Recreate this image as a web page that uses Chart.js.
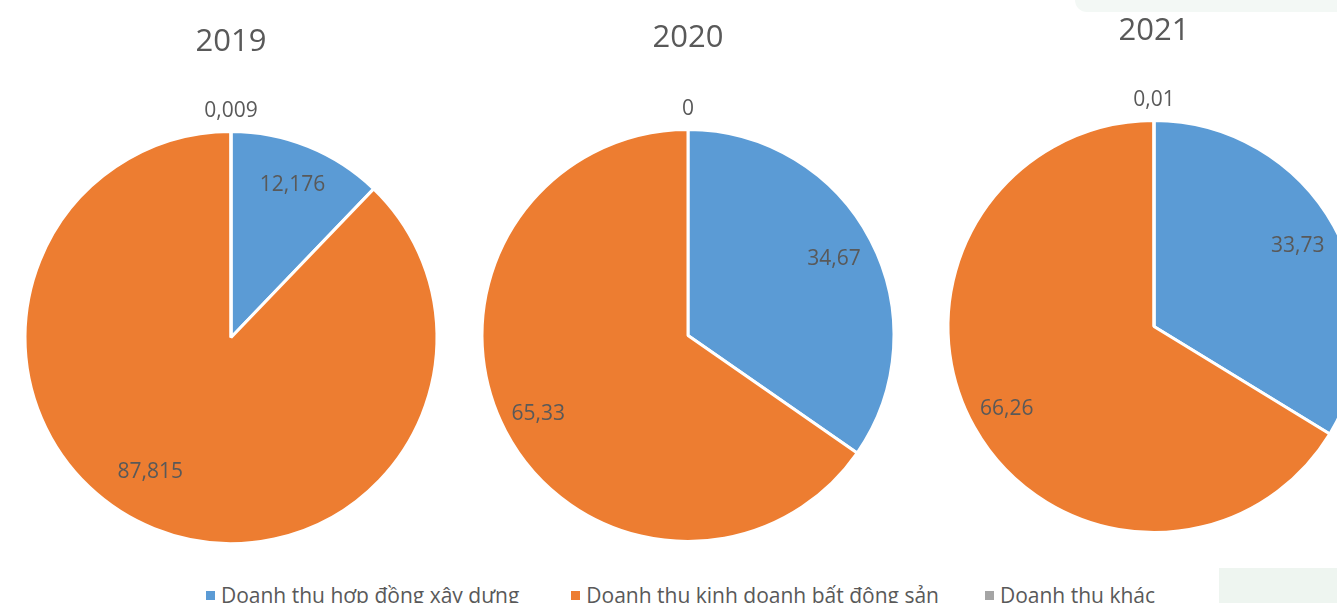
<!DOCTYPE html>
<html>
<head>
<meta charset="utf-8">
<script src="https://cdn.jsdelivr.net/npm/chart.js@4"></script>
<style>
  body { margin: 0; width: 1337px; height: 603px; overflow: hidden; background: #fff; position: relative; font-family: "Open Sans", sans-serif; }
  .pie { position: absolute; width: 462px; height: 560px; }
  #legend { position: absolute; left: 12px; top: 579px; width: 1337px; height: 32px; display: flex; justify-content: center; font-size: 21px; color: #595959; white-space: nowrap; }
  #legend span { display: inline-flex; align-items: center; }
  #legend i { display: inline-block; width: 9px; height: 9px; margin-right: 6px; }
  .tint1 { position: absolute; left: 1075px; top: -14px; width: 290px; height: 26px; border-radius: 12px; background: #f3f8f5; }
  .tint2 { position: absolute; left: 1219px; top: 568px; width: 120px; height: 40px; background: #eef5f0; }
</style>
</head>
<body>
<div class="tint1"></div>
<div class="tint2"></div>
<div class="pie" id="w2019"><canvas id="c2019"></canvas></div>
<div class="pie" id="w2020"><canvas id="c2020"></canvas></div>
<div class="pie" id="w2021"><canvas id="c2021"></canvas></div>
<div id="legend"></div>
<script>
const categories = ["Doanh thu hợp đồng xây dựng", "Doanh thu kinh doanh bất động sản", "Doanh thu khác"];
const years = ["2019", "2020", "2021"];
const values2019 = [12.176, 87.815, 0.009];
const values2020 = [34.67, 65.33, 0];
const values2021 = [33.73, 66.26, 0.01];
const labels2019 = ["12,176", "87,815", "0,009"];
const labels2020 = ["34,67", "65,33", "0"];
const labels2021 = ["33,73", "66,26", "0,01"];
const colors = ["#5b9bd5", "#ed7d31", "#a5a5a5"];

// where each pie sits on the page: center x, center y, radius, title center y
const spots = [
  { cx: 231, cy: 337, r: 206, ty: 42 },
  { cx: 688, cy: 335, r: 206, ty: 38 },
  { cx: 1154, cy: 326, r: 206, ty: 31 },
];

const W = 462, H = 560, BW = 3;
const FONT = "'Open Sans', sans-serif";

// draws the value labels like excel: big slices inside, the tiny one above the top
const valueLabels = {
  id: "valueLabels",
  afterDatasetsDraw(chart, args, opts) {
    const ctx = chart.ctx;
    const meta = chart.getDatasetMeta(0);
    ctx.save();
    ctx.font = "21px " + FONT;
    ctx.fillStyle = "#595959";
    ctx.textAlign = "center";
    ctx.textBaseline = "middle";
    meta.data.forEach((arc, i) => {
      const p = arc.getProps(["x", "y", "startAngle", "endAngle", "outerRadius"], true);
      const txt = opts.texts[i];
      if (i == 2) {
        ctx.fillText(txt, p.x, p.y - p.outerRadius - 20);
        return;
      }
      let mid = (p.startAngle + p.endAngle) / 2;
      const f = opts.factors ? opts.factors[i] : 0.8;
      if (opts.shift && opts.shift[i]) mid += opts.shift[i];
      ctx.fillText(txt, p.x + Math.cos(mid) * p.outerRadius * f, p.y + Math.sin(mid) * p.outerRadius * f);
    });
    ctx.restore();
  }
};

function makePie(id, year, values, texts, spot, extra) {
  const wrap = document.getElementById("w" + year);
  wrap.style.left = (spot.cx - W / 2) + "px";
  const areaSide = spot.r * 2 + BW;
  const areaTop = H - 16 - areaSide;
  wrap.style.top = (spot.cy - (areaTop + areaSide / 2)) + "px";
  const titleTop = spot.ty - (spot.cy - (areaTop + areaSide / 2)) - 19;
  new Chart(document.getElementById(id), {
    type: "pie",
    data: {
      labels: categories,
      datasets: [{
        data: values,
        backgroundColor: colors,
        borderColor: "#ffffff",
        borderWidth: BW,
      }],
    },
    options: {
      responsive: true,
      maintainAspectRatio: false,
      animation: false,
      layout: { padding: { left: (W - areaSide) / 2, right: (W - areaSide) / 2, bottom: 16, top: 0 } },
      plugins: {
        legend: { display: false },
        tooltip: { enabled: false },
        title: {
          display: true,
          text: year,
          color: "#595959",
          font: { family: FONT, size: 31, weight: "normal", lineHeight: 1.2 },
          padding: { top: titleTop, bottom: areaTop - titleTop - 31 * 1.2 },
        },
        valueLabels: Object.assign({ texts: texts }, extra),
      },
    },
    plugins: [valueLabels],
  });
}

makePie("c2019", years[0], values2019, labels2019, spots[0], { factors: [0.8, 0.76], shift: [0, 0.16] });
makePie("c2020", years[1], values2020, labels2020, spots[1], { factors: [0.8, 0.82] });
makePie("c2021", years[2], values2021, labels2021, spots[2], { factors: [0.8, 0.82] });

// legend under the three pies
const legend = document.getElementById("legend");
const gaps = [0, 52, 46];
categories.forEach((c, i) => {
  const s = document.createElement("span");
  s.style.marginLeft = gaps[i] + "px";
  s.innerHTML = '<i style="background:' + colors[i] + '"></i>' + c;
  legend.appendChild(s);
});
</script>
</body>
</html>
